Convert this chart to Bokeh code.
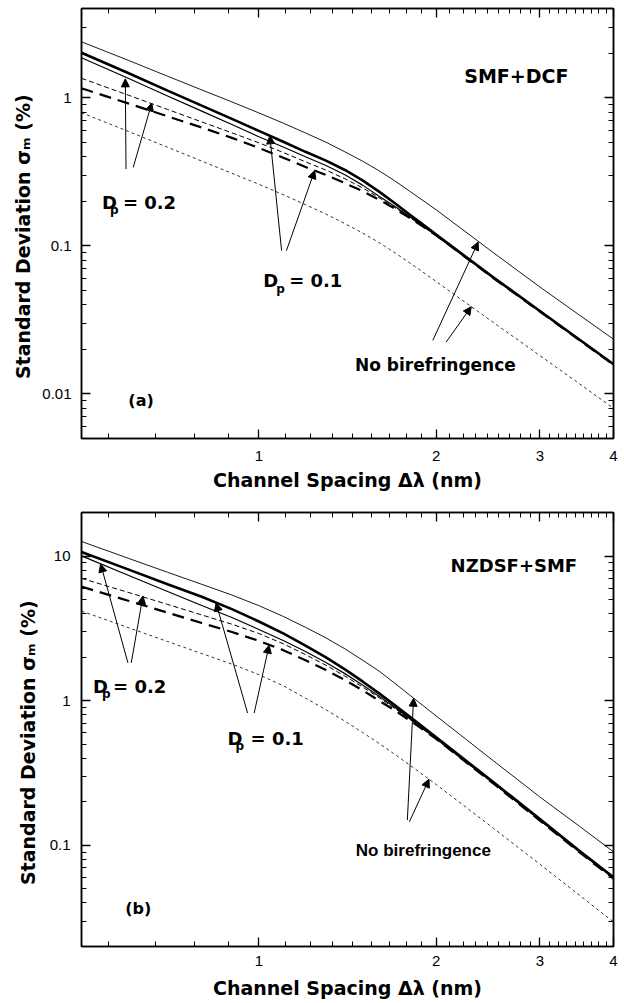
import numpy as np
from bokeh.plotting import figure
from bokeh.models import (FixedTicker, CustomJSTickFormatter, LogAxis, Label,
                          Arrow, NormalHead, Range1d)
from bokeh.layouts import column
from bokeh.embed import file_html
from bokeh.resources import INLINE

# ---------------- data ----------------
spacing_nm = [0.5, 0.6, 0.7, 0.8, 0.9, 1.0, 1.1, 1.2, 1.3, 1.4, 1.5, 1.6, 1.7, 1.8, 1.9,
              2.0, 2.5, 3.0, 3.5, 4.0]

# (a) SMF+DCF
smf_nobiref_solid = [2.383, 1.789, 1.396, 1.128, 0.9365, 0.789, 0.6731, 0.578, 0.5004, 0.431,
                     0.3728, 0.321, 0.275, 0.235, 0.2021, 0.175, 0.090, 0.0527, 0.0341, 0.0234]
smf_dp01_solid = [2.01, 1.467, 1.116, 0.883, 0.7186, 0.597, 0.5043, 0.431, 0.3756, 0.325,
                  0.2764, 0.232, 0.1946, 0.1635, 0.139, 0.119, 0.0613, 0.0363, 0.0233, 0.01585]
smf_dp02_solid = [1.859, 1.351, 1.027, 0.811, 0.6584, 0.545, 0.4645, 0.399, 0.3482, 0.302,
                  0.2568, 0.2162, 0.1847, 0.1585, 0.1359, 0.1171, 0.0606, 0.0360, 0.0232, 0.01578]
smf_dp02_dash = [1.351, 1.041, 0.833, 0.686, 0.579, 0.496, 0.4267, 0.369, 0.3246, 0.2835,
                 0.2461, 0.2112, 0.1815, 0.156, 0.135, 0.1171, 0.0606, 0.0360, 0.0232, 0.01575]
smf_dp01_dash = [1.157, 0.915, 0.748, 0.629, 0.5353, 0.4584, 0.3936, 0.3404, 0.3007, 0.2648,
                 0.2339, 0.2047, 0.1786, 0.1548, 0.1349, 0.1177, 0.0606, 0.0360, 0.0231, 0.01573]
smf_nobiref_dot = [0.792, 0.593, 0.4627, 0.3729, 0.3089, 0.2603, 0.2214, 0.1894, 0.1637, 0.1411,
                   0.1221, 0.1051, 0.09005, 0.0771, 0.06634, 0.0574, 0.0304, 0.01814, 0.01172, 0.0080]

# (b) NZDSF+SMF
nz_nobiref_solid = [12.61, 9.66, 7.72, 6.38, 5.378, 4.543, 3.827, 3.216, 2.718, 2.283,
                    1.908, 1.602, 1.324, 1.10, 0.9254, 0.785, 0.385, 0.216, 0.1358, 0.0902]
nz_dp01_solid = [10.68, 8.09, 6.39, 5.23, 4.296, 3.53, 2.918, 2.406, 1.994, 1.646,
                 1.359, 1.124, 0.9342, 0.7794, 0.6573, 0.5594, 0.274, 0.152, 0.0918, 0.0602]
nz_dp02_solid = [10.02, 7.37, 5.69, 4.55, 3.76, 3.108, 2.606, 2.187, 1.837, 1.539,
                 1.286, 1.075, 0.9002, 0.756, 0.64, 0.545, 0.270, 0.1496, 0.0904, 0.0594]
nz_dp02_dash = [7.015, 5.61, 4.632, 3.916, 3.38, 2.915, 2.475, 2.084, 1.759, 1.479,
                1.245, 1.049, 0.8855, 0.750, 0.636, 0.5408, 0.2688, 0.1489, 0.090, 0.0592]
nz_dp01_dash = [6.145, 4.914, 4.063, 3.446, 2.985, 2.594, 2.237, 1.906, 1.630, 1.39,
                1.182, 1.0, 0.8594, 0.735, 0.6325, 0.545, 0.2679, 0.1484, 0.0897, 0.0588]
nz_nobiref_dot = [4.163, 3.203, 2.566, 2.118, 1.792, 1.514, 1.269, 1.042, 0.8655, 0.7222,
                  0.6036, 0.5065, 0.4267, 0.361, 0.3077, 0.2636, 0.1316, 0.0741, 0.0453, 0.02953]

x_major_ticks = [1, 2, 3, 4]
x_minor_ticks = [n + k / 9 for n in range(0, 4) for k in range(1, 9) if 0.5 <= n + k / 9 <= 4]
ya_major_ticks = [0.01, 0.1, 1]
yb_major_ticks = [0.1, 1, 10]

X_TITLE = "Channel Spacing \u0394\u03bb (nm)"
Y_TITLE = "Standard Deviation \u03c3\u2098 (%)" + "\u00a0" * 4

# line styles: (width, dash)
STYLES = {
    "nobiref_solid": (0.9, "solid"),
    "dp01_solid": (2.6, "solid"),
    "dp02_solid": (1.2, "solid"),
    "dp02_dash": (1.0, "5 3"),
    "dp01_dash": (2.2, "12 7"),
    "nobiref_dot": (0.8, "3 3"),
}

BOLD = "DejaVu Sans"


def minor_log(exps, lo, hi):
    return [k * 10.0 ** e for e in exps for k in range(2, 10) if lo <= k * 10.0 ** e <= hi]


def make_fig(height, yr, y_major, y_minor, b_left, b_top, b_bottom, tick_standoff,
             title_standoff, y_standoff, ytitle_standoff):
    p = figure(width=624, height=height, x_axis_type="log", y_axis_type="log",
               x_range=Range1d(0.5, 4), y_range=Range1d(*yr),
               output_backend="svg", toolbar_location=None,
               min_border_left=b_left, min_border_right=11,
               min_border_top=b_top, min_border_bottom=b_bottom)
    p.grid.visible = False
    p.outline_line_color = "black"
    p.outline_line_width = 1.5
    p.background_fill_color = "white"
    p.border_fill_color = "white"

    xt = FixedTicker(ticks=x_major_ticks, minor_ticks=x_minor_ticks)
    yt = FixedTicker(ticks=y_major, minor_ticks=y_minor)
    fmt = CustomJSTickFormatter(code="return tick.toString();")
    blank = CustomJSTickFormatter(code="return '';")

    p.xaxis.ticker = xt
    p.xaxis.formatter = fmt
    p.yaxis.ticker = yt
    p.yaxis.formatter = fmt
    p.add_layout(LogAxis(ticker=xt, formatter=blank), "above")
    p.add_layout(LogAxis(ticker=yt, formatter=blank), "right")

    for ax in p.axis:
        ax.major_tick_in = 9
        ax.major_tick_out = 0
        ax.minor_tick_in = 5
        ax.minor_tick_out = 0
        ax.axis_line_width = 1.5
        ax.major_tick_line_width = 1.3
        ax.minor_tick_line_width = 1.0
        ax.axis_line_color = "black"
        ax.major_tick_line_color = "black"
        ax.minor_tick_line_color = "black"
        ax.major_label_text_font = "Liberation Sans"
        ax.major_label_text_font_size = "15px"
        ax.major_label_text_color = "black"
    for ax in p.above + p.right:
        ax.major_label_text_font_size = "0px"
        ax.major_label_standoff = 0

    for ax, title, st in ((p.below[0], X_TITLE, title_standoff),
                          (p.left[0], Y_TITLE, ytitle_standoff)):
        ax.axis_label = title
        ax.axis_label_text_font = BOLD
        ax.axis_label_text_font_style = "bold"
        ax.axis_label_text_font_size = "19px"
        ax.axis_label_text_color = "black"
        ax.axis_label_standoff = st
    p.left[0].major_label_standoff = y_standoff
    p.below[0].major_label_standoff = tick_standoff
    return p


def draw_curves(p, series):
    for key, ys in series.items():
        w, dash = STYLES[key]
        p.line(spacing_nm, ys, line_color="black", line_width=w, line_dash=dash)


def text(p, x, y, s, size, font=BOLD, xo=0, yo=0, align="left"):
    p.add_layout(Label(x=x, y=y, text=s, x_offset=xo, y_offset=yo, text_font=font,
                       text_font_style="bold", text_font_size=f"{size}px",
                       text_color="black", text_align=align, text_baseline="alphabetic"))


def dp_label(p, x, y, val, p_dx, eq_dx):
    text(p, x, y, "D", 18)
    text(p, x, y, "p", 12, xo=p_dx, yo=-8)
    text(p, x, y, "= " + val, 18, xo=eq_dx)


def arrow(p, xs, ys, xe, ye):
    p.add_layout(Arrow(end=NormalHead(size=8, fill_color="black", line_color="black", line_width=1),
                       x_start=xs, y_start=ys, x_end=xe, y_end=ye,
                       line_color="black", line_width=1))


# ---------------- panel (a) ----------------
pa = make_fig(500, (0.005, 4), ya_major_ticks, minor_log([-3, -2, -1, 0], 0.005, 4),
              81, 8, 62, 12, 5, 10, 5)
draw_curves(pa, {
    "nobiref_solid": smf_nobiref_solid, "dp01_solid": smf_dp01_solid,
    "dp02_solid": smf_dp02_solid, "dp02_dash": smf_dp02_dash,
    "dp01_dash": smf_dp01_dash, "nobiref_dot": smf_nobiref_dot,
})
text(pa, 2.232, 1.40, "SMF+DCF", 19)
dp_label(pa, 0.5415, 0.1963, "0.2", 8, 21)
dp_label(pa, 1.017, 0.0583, "0.1", 13, 26)
text(pa, 1.456, 0.0156, "No birefringence", 17)
text(pa, 0.6005, 0.00907, "(a)", 16)
arrow(pa, 0.595, 0.3295, 0.5934, 1.34)
arrow(pa, 0.612, 0.338, 0.658, 0.92)
arrow(pa, 1.093, 0.0928, 1.044, 0.553)
arrow(pa, 1.114, 0.0928, 1.244, 0.322)
arrow(pa, 1.974, 0.023, 2.357, 0.106)
arrow(pa, 2.08, 0.0224, 2.294, 0.0388)

# ---------------- panel (b) ----------------
pb = make_fig(503, (0.02, 20), yb_major_ticks, minor_log([-2, -1, 0, 1], 0.02, 20),
              79, 12, 57, 9, 8, 11, 8)
draw_curves(pb, {
    "nobiref_solid": nz_nobiref_solid, "dp01_solid": nz_dp01_solid,
    "dp02_solid": nz_dp02_solid, "dp02_dash": nz_dp02_dash,
    "dp01_dash": nz_dp01_dash, "nobiref_dot": nz_nobiref_dot,
})
text(pb, 2.116, 8.54, "NZDSF+SMF", 18)
dp_label(pb, 0.5232, 1.257, "0.2", 9, 20)
dp_label(pb, 0.885, 0.551, "0.1", 8, 23)
text(pb, 1.461, 0.0926, "No birefringence", 17, font="Liberation Sans")
text(pb, 0.5933, 0.0367, "(b)", 16)
arrow(pb, 0.5995, 1.826, 0.5389, 8.8)
arrow(pb, 0.6074, 1.826, 0.6357, 5.3)
arrow(pb, 0.957, 0.822, 0.846, 4.74)
arrow(pb, 0.982, 0.822, 1.041, 2.42)
arrow(pb, 1.787, 0.1496, 1.831, 1.04)
arrow(pb, 1.801, 0.1455, 1.945, 0.2866)

layout = column(pa, pb, spacing=0)
open("out.html", "w").write(file_html(layout, INLINE))
